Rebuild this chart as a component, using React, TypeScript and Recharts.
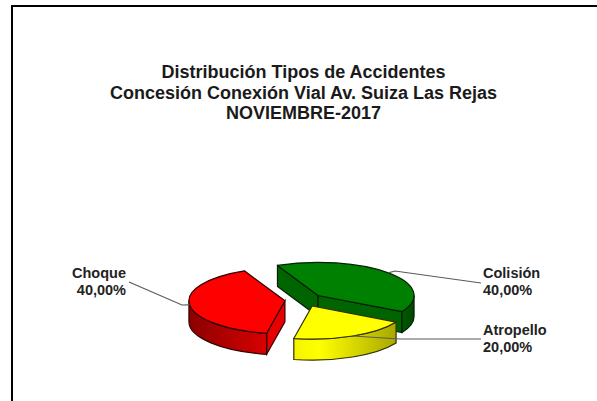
import React from 'react';
import { PieChart, Pie } from 'recharts';

const categories = ['Colisión', 'Atropello', 'Choque'];
const shares = [40, 20, 40];
const titleLines = ['Distribución Tipos de Accidentes', 'Concesión Conexión Vial Av. Suiza Las Rejas', 'NOVIEMBRE-2017'];

const topColors = ['#008000', '#ffff00', '#ff0000'];
const edgeColors = ['#006400', '#e0e000', '#e60000'];
const outlineColors = ['#002000', '#303000', '#300000'];

const tableData = categories.map((name, i) => ({ name, value: shares[i], fill: topColors[i], index: i }));

// tilted pie geometry
const TILT = 0.345;
const DEPTH = 21;
const EXPLODE = 0.2;
const RAD = Math.PI / 180;

// label anchor, elbow and text position for each slice
const labelSpots: Record<string, { elbow: [number, number]; end: [number, number]; text: [number, number]; anchor: string }> = {
  'Colisión': { elbow: [395, 271], end: [481, 283], text: [483, 278], anchor: 'start' },
  'Atropello': { elbow: [400, 339], end: [481, 339], text: [483, 335], anchor: 'start' },
  'Choque': { elbow: [182, 305], end: [129, 282], text: [126, 278], anchor: 'end' },
};

const project = (cx: number, cy: number, r: number, a: number): [number, number] => [
  cx + r * Math.cos(a * RAD),
  cy - r * TILT * Math.sin(a * RAD),
];

const sliceCentre = (cx: number, cy: number, r: number, mid: number) => project(cx, cy, r * EXPLODE, mid);

const Slice3D = (props: any) => {
  const { cx, cy, outerRadius: r, startAngle: start, endAngle: end, midAngle, fill } = props;
  const idx = categories.indexOf(props.name ?? props.payload?.name);
  const [ox, oy] = sliceCentre(cx, cy, r, midAngle);
  const ry = r * TILT;
  const outline = outlineColors[idx];
  const p = (a: number, dy = 0) => {
    const [x, y] = project(ox, oy, r, a);
    return `${x} ${y + dy}`;
  };
  const radial = (a: number) => `M${ox} ${oy}L${p(a)}L${p(a, DEPTH)}L${ox} ${oy + DEPTH}Z`;
  // radial walls only show when their outward normal points at the viewer
  const startFaces = Math.sin((start + 90) * RAD) < 0;
  const endFaces = Math.sin((end - 90) * RAD) < 0;
  const a1 = Math.min(start, 0);
  const a2 = Math.max(end, -180);
  const large = start - end > 180 ? 1 : 0;
  return (
    <g>
      {startFaces && <path d={radial(start)} fill={edgeColors[idx]} stroke={outline} strokeWidth={1.2} />}
      {endFaces && <path d={radial(end)} fill={edgeColors[idx]} stroke={outline} strokeWidth={1.2} />}
      {a1 > a2 && (
        <path
          d={`M${p(a1)}A${r} ${ry} 0 0 1 ${p(a2)}L${p(a2, DEPTH)}A${r} ${ry} 0 0 0 ${p(a1, DEPTH)}Z`}
          fill={`url(#wall${idx})`}
          stroke={outline}
          strokeWidth={1.2}
        />
      )}
      <path
        d={`M${ox} ${oy}L${p(start)}A${r} ${ry} 0 ${large} 1 ${p(end)}Z`}
        fill={fill}
        stroke={outline}
        strokeWidth={1.2}
        strokeLinejoin="round"
      />
    </g>
  );
};

const renderLabel = (props: any) => {
  const { cx, cy, outerRadius: r, midAngle, name, percent } = props;
  const spot = labelSpots[name];
  const [ox, oy] = sliceCentre(cx, cy, r, midAngle);
  const [sx, sy] = project(ox, oy, r, midAngle);
  const pct = `${(percent * 100).toFixed(2).replace('.', ',')}%`;
  return (
    <g key={name}>
      <polyline
        points={`${sx},${sy} ${spot.elbow.join(',')} ${spot.end.join(',')}`}
        fill="none"
        stroke="#5a5a5a"
        strokeWidth={1.2}
      />
      <text
        x={spot.text[0]}
        y={spot.text[1]}
        textAnchor={spot.anchor as any}
        fontFamily="Liberation Sans"
        fontSize={14.5}
        fontWeight="bold"
        fill="#222"
      >
        <tspan x={spot.text[0]}>{name}</tspan>
        <tspan x={spot.text[0]} dy={17}>{pct}</tspan>
      </text>
    </g>
  );
};

export default function App() {
  return (
    <div style={{ position: 'absolute', left: 0, top: 0, width: 597, height: 401, background: '#fff', overflow: 'hidden' }}>
      <div style={{ position: 'absolute', left: 11, top: 5, right: -4, bottom: -4, borderLeft: '2px solid #000', borderTop: '2px solid #000' }} />
      <div style={{ position: 'absolute', left: 0, top: 0 }}>
        <PieChart width={597} height={401} margin={{ top: 0, right: 0, bottom: 0, left: 0 }}>
          <defs>
            <linearGradient id="wall0" x1="0" y1="0" x2="1" y2="0">
              <stop offset="0" stopColor="#005a00" />
              <stop offset="1" stopColor="#004800" />
            </linearGradient>
            <linearGradient id="wall1" x1="0" y1="0" x2="1" y2="0">
              <stop offset="0" stopColor="#f4f400" />
              <stop offset="0.25" stopColor="#ffff00" />
              <stop offset="1" stopColor="#a8a800" />
            </linearGradient>
            <linearGradient id="wall2" x1="0" y1="0" x2="1" y2="0">
              <stop offset="0" stopColor="#8c0000" />
              <stop offset="1" stopColor="#d80000" />
            </linearGradient>
          </defs>
          {titleLines.map((line, i) => (
            <text
              key={line}
              x={303.5}
              y={78 + i * 20.7}
              textAnchor="middle"
              fontFamily="Liberation Sans"
              fontSize={18}
              fontWeight="bold"
              fill="#1a1a1a"
            >
              {line}
            </text>
          ))}
          <Pie
            data={tableData}
            dataKey="value"
            nameKey="name"
            cx={304}
            cy={300}
            innerRadius={0}
            outerRadius={96}
            startAngle={115}
            endAngle={-245}
            stroke="none"
            shape={Slice3D}
            label={renderLabel}
            labelLine={false}
            isAnimationActive={false}
          />
        </PieChart>
      </div>
    </div>
  );
}
